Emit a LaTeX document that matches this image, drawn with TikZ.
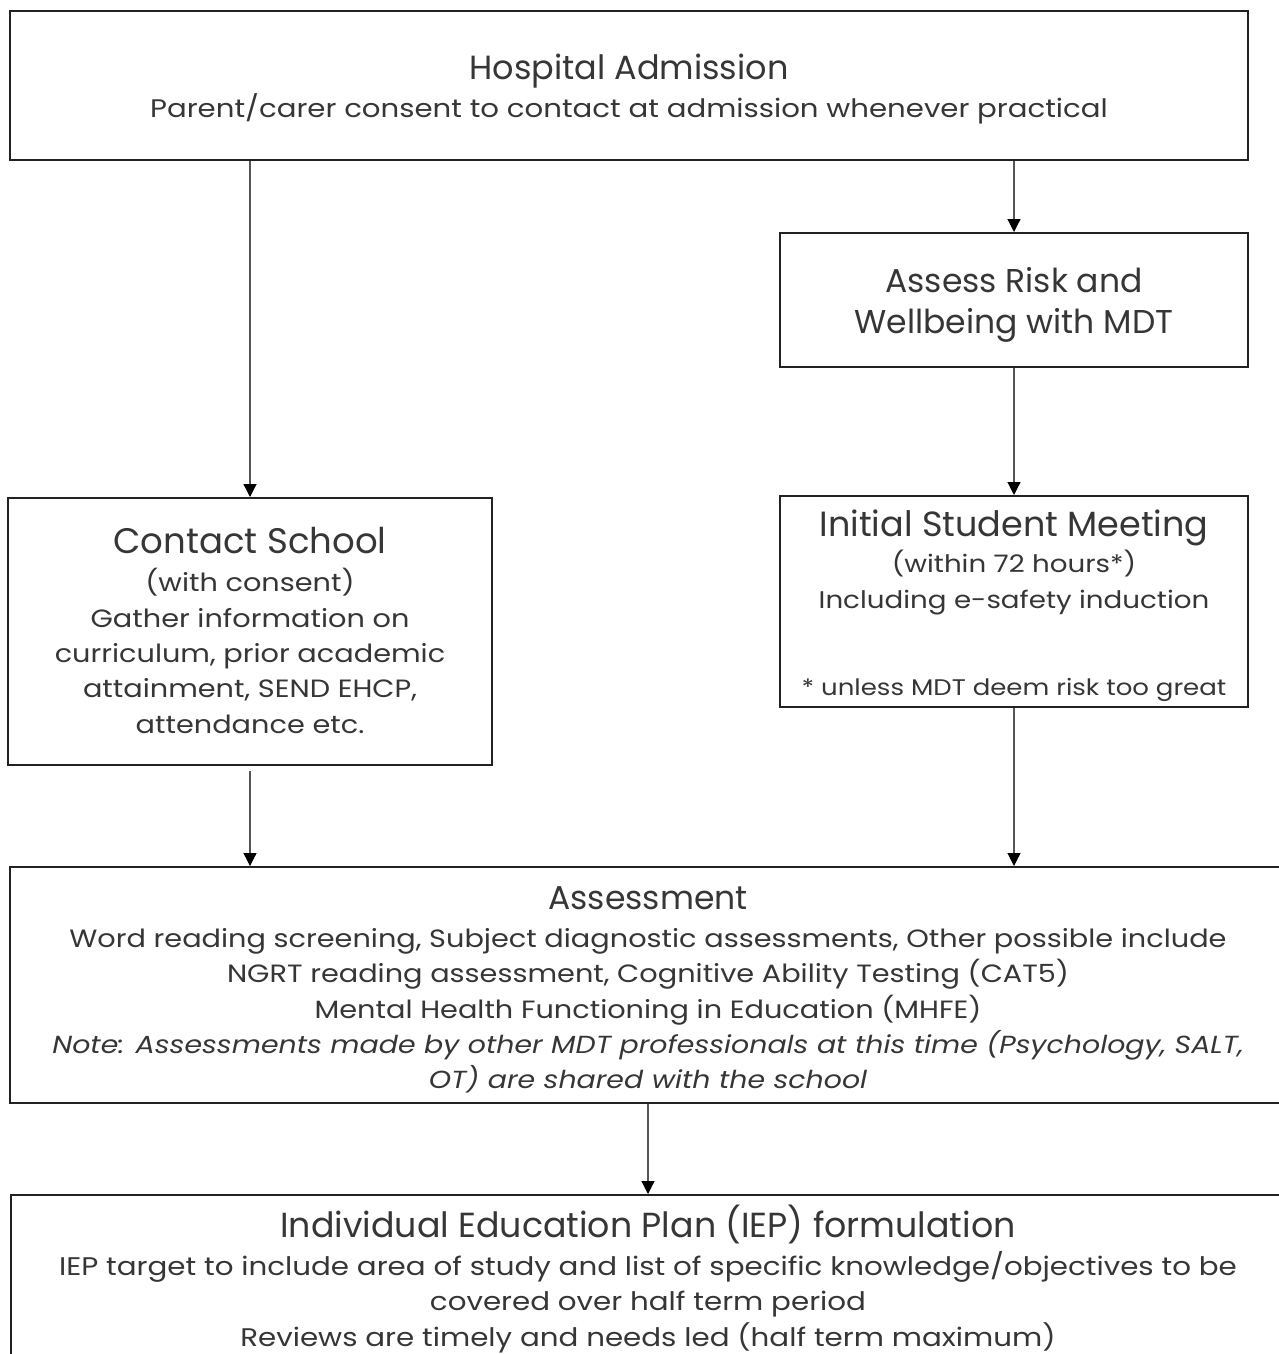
\documentclass[tikz,border=0pt]{standalone}
\usepackage{fontspec}
\setmainfont{Poppins}
\newfontfamily\bodyfont{Poppins}[FakeStretch=1.15]
\usetikzlibrary{arrows.meta}
\definecolor{txt}{HTML}{363636}
\definecolor{edge}{HTML}{222222}
\definecolor{conncol}{HTML}{555555}
\newcommand\tsz[1]{\rmfamily\fontsize{#1}{35.3}\selectfont}
\newcommand\bsz[1]{\bodyfont\fontsize{#1}{35.3}\selectfont}
\begin{document}
\begin{tikzpicture}[x=1pt,y=-1pt,
  box/.style={draw=edge, line width=2pt, rectangle, inner sep=0pt},
  txtblock/.style={inner sep=0pt, align=center, text=txt, font=\bsz{25}},
  conn/.style={draw=conncol, line width=1.2pt,
    -{Triangle[width=13pt,length=13pt,fill=black,color=black]}}]
\useasboundingbox (0,0) rectangle (1279,1354);
\fill[white] (0,0) rectangle (1279,1354);
\clip (0,0) rectangle (1279,1354);

% boxes
\node[box, minimum width=1238pt, minimum height=149pt] (adm) at (629,85.5) {};
\node[box, minimum width=468pt, minimum height=134pt] (risk) at (1014,300) {};
\node[box, minimum width=484pt, minimum height=267pt] (contact) at (250,631.5) {};
\node[box, minimum width=468pt, minimum height=211pt] (meet) at (1014,601.5) {};
\node[box, minimum width=1276pt, minimum height=236pt] (assess) at (648,985) {};
\node[box, minimum width=1274pt, minimum height=176pt] (iep) at (648,1283) {};

% texts
\node[txtblock] (admT) at ([yshift=-4pt]adm.center)
  {{\tsz{33.5}Hospital Admission}\\[2.7pt]
   {\bsz{25.4}Parent/carer consent to contact at admission whenever practical}};

\node[txtblock] (riskT) at ([yshift=-5pt]risk.center)
  {{\tsz{33}Assess Risk and}\\[5.7pt]{\tsz{33}Wellbeing with MDT}};

\node[txtblock] (contactT) at ([yshift=1pt]contact.center)
  {{\tsz{35.5}Contact School}\\[2.7pt]
   (with consent)\\
   Gather information on\\
   curriculum, prior academic\\
   attainment, SEND EHCP,\\
   attendance etc.};

\node[txtblock] (meetT) at ([yshift=-4pt]meet.center)
  {{\tsz{35}Initial Student Meeting}\\[1.4pt]
   {\bsz{24.1}(within 72 hours*)}\\
   {\bsz{24.1}Including e-safety induction}\\[51.7pt]
   {\bsz{22.6}* unless MDT deem risk too great}};

\node[txtblock] (assessT) at ([yshift=-5pt]assess.center)
  {{\tsz{33}Assessment}\\[2.7pt]
   Word reading screening, Subject diagnostic assessments, Other possible include\\
   NGRT reading assessment, Cognitive Ability Testing (CAT5)\\
   Mental Health Functioning in Education (MHFE)\\
   {\bsz{24.7}\itshape Note: Assessments made by other MDT professionals at this time (Psychology, SALT,}\\
   {\bsz{24.7}\itshape OT) are shared with the school}};

\node[txtblock] (iepT) at ([yshift=4pt]iep.center)
  {{\tsz{34.8}Individual Education Plan (IEP) formulation}\\[2.7pt]
   {\bsz{25.5}IEP target to include area of study and list of specific knowledge/objectives to be}\\
   {\bsz{25.5}covered over half term period}\\
   {\bsz{25.5}Reviews are timely and needs led (half term maximum)}};

% connectors
\draw[conn] (contact.north |- adm.south) -- (contact.north);
\draw[conn] (risk.north |- adm.south) -- (risk.north);
\draw[conn] (risk.south) -- (meet.north);
\draw[conn] ([yshift=-5pt]contact.south) -- (contact.south |- assess.north);
\draw[conn] (meet.south) -- (meet.south |- assess.north);
\draw[conn] (assess.south) -- (iep.north);
\end{tikzpicture}
\end{document}
